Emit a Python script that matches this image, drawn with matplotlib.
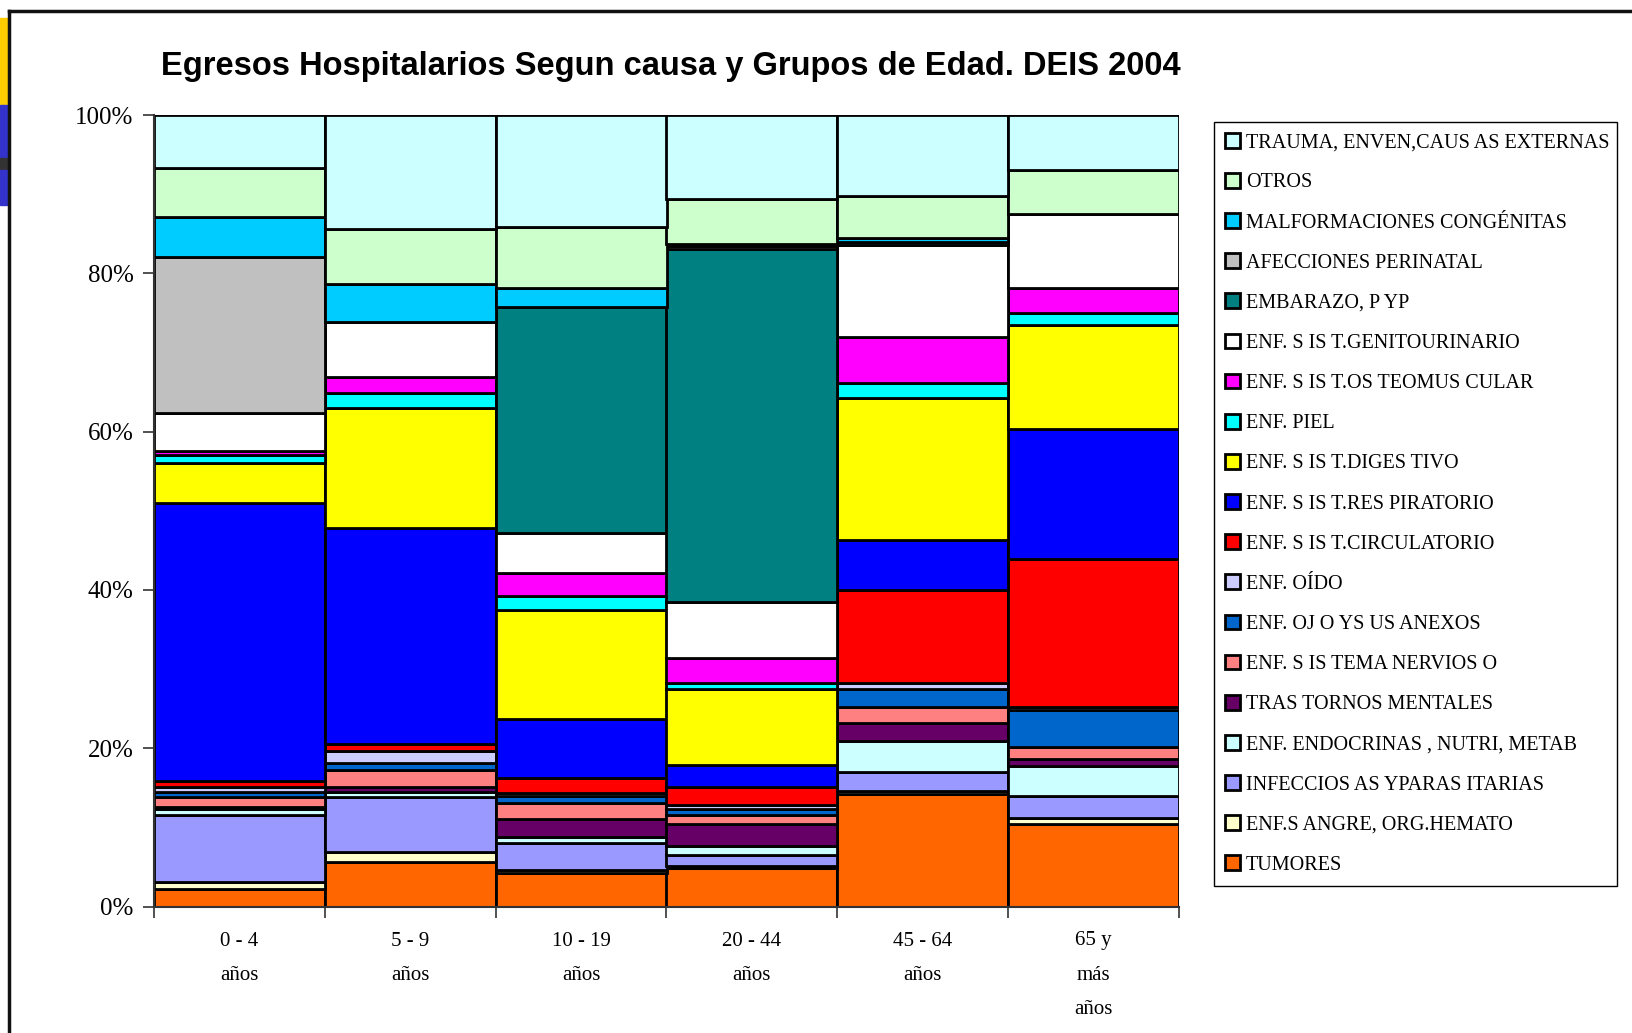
import matplotlib
matplotlib.use("Agg")
import matplotlib.pyplot as plt
import numpy as np
from matplotlib.patches import Rectangle
from matplotlib.lines import Line2D

# ---------------- data ----------------
groups = ["0 - 4\naños", "5 - 9\naños", "10 - 19\naños", "20 - 44\naños",
          "45 - 64\naños", "65 y\nmás\naños"]
yticklabels = ["0%", "20%", "40%", "60%", "80%", "100%"]

tumores       = [2.2, 5.6, 4.2, 4.9, 14.2, 10.4]
sangre        = [0.9, 1.3, 0.4, 0.2, 0.4, 0.8]
infecciosas   = [8.5, 6.9, 3.4, 1.4, 2.4, 2.7]
endocrinas    = [0.7, 0.7, 0.8, 1.2, 3.9, 3.9]
mentales      = [0.3, 0.6, 2.3, 2.7, 2.3, 0.8]
nervioso      = [1.2, 2.2, 2.0, 1.2, 2.0, 1.5]
ojo           = [0.7, 0.8, 0.8, 0.7, 2.3, 4.7]
oido          = [0.6, 1.6, 0.5, 0.5, 0.8, 0.4]
circulatorio  = [0.7, 0.8, 1.8, 2.3, 11.7, 18.7]
respiratorio  = [35.2, 27.3, 7.5, 2.8, 6.3, 16.4]
digestivo     = [5.0, 15.2, 13.7, 9.6, 17.9, 13.2]
piel          = [1.0, 1.9, 1.8, 0.8, 1.9, 1.5]
osteomuscular = [0.6, 2.0, 2.9, 3.1, 5.9, 3.2]
genitourinario= [4.7, 7.0, 5.1, 7.1, 11.6, 9.3]
embarazo      = [0.0, 0.0, 28.6, 44.6, 0.4, 0.0]
perinatal     = [19.8, 0.0, 0.0, 0.3, 0.0, 0.0]
malformaciones= [5.0, 4.7, 2.4, 0.3, 0.4, 0.0]
otros         = [6.2, 7.0, 7.7, 5.7, 5.4, 5.5]
trauma        = [6.7, 14.4, 14.1, 10.6, 10.2, 7.0]

# bottom -> top
series = [
    ("TUMORES", tumores, "#FF6600"),
    ("ENF.S ANGRE, ORG.HEMATO", sangre, "#FFFFCC"),
    ("INFECCIOS AS YPARAS ITARIAS", infecciosas, "#9999FF"),
    ("ENF. ENDOCRINAS , NUTRI, METAB", endocrinas, "#CCFFFF"),
    ("TRAS TORNOS MENTALES", mentales, "#660066"),
    ("ENF. S IS TEMA NERVIOS O", nervioso, "#FF8080"),
    ("ENF. OJ O YS US ANEXOS", ojo, "#0066CC"),
    ("ENF. OÍDO", oido, "#CCCCFF"),
    ("ENF. S IS T.CIRCULATORIO", circulatorio, "#FF0000"),
    ("ENF. S IS T.RES PIRATORIO", respiratorio, "#0000FF"),
    ("ENF. S IS T.DIGES TIVO", digestivo, "#FFFF00"),
    ("ENF. PIEL", piel, "#00FFFF"),
    ("ENF. S IS T.OS TEOMUS CULAR", osteomuscular, "#FF00FF"),
    ("ENF. S IS T.GENITOURINARIO", genitourinario, "#FFFFFF"),
    ("EMBARAZO, P YP", embarazo, "#008080"),
    ("AFECCIONES PERINATAL", perinatal, "#C0C0C0"),
    ("MALFORMACIONES CONGÉNITAS", malformaciones, "#00CCFF"),
    ("OTROS", otros, "#CCFFCC"),
    ("TRAUMA, ENVEN,CAUS AS EXTERNAS", trauma, "#CCFFFF"),
]

title = "Egresos Hospitalarios Segun causa y Grupos de Edad. DEIS 2004"

# ---------------- figure ----------------
W, H = 1632, 1033
fig = plt.figure(figsize=(W / 100, H / 100), dpi=100)
fig.patch.set_facecolor("white")

serif = ["Liberation Serif", "DejaVu Serif"]
sans = ["Liberation Sans", "DejaVu Sans"]

ax = fig.add_axes([154 / W, 1 - 906.5 / H, (1179 - 154) / W, (906.5 - 115) / H])

totals = np.sum([np.array(v, dtype=float) for _, v, _ in series], axis=0)
x = np.arange(len(groups))
bottom = np.zeros(len(groups))
containers = []
for name, vals, col in series:
    pct = np.array(vals, dtype=float) / totals * 100
    c = ax.bar(x, pct, width=1.0, bottom=bottom, color=col, edgecolor="black",
               linewidth=2.0, label=name, zorder=2)
    containers.append(c)
    bottom += pct

ax.set_xlim(-0.5, len(groups) - 0.5)
ax.set_ylim(0, 100)

# x axis: tick marks at bar boundaries, labels centred
ax.set_xticks(np.arange(-0.5, len(groups), 1.0))
ax.tick_params(axis="x", which="major", length=8, width=1.2, direction="out",
               labelbottom=False, color="#333333")
ax.set_xticks(x, minor=True)
ax.set_xticklabels(groups, minor=True, fontsize=15, family=serif,
                   linespacing=2.1, va="top")
ax.tick_params(axis="x", which="minor", length=0, pad=18)

ax.set_yticks([0, 20, 40, 60, 80, 100])
ax.set_yticklabels(yticklabels, fontsize=18, family=serif)
ax.tick_params(axis="y", length=8, width=1.2, direction="out", pad=6.8,
               color="#333333")

for s in ["top", "right"]:
    ax.spines[s].set_visible(False)
for s in ["left", "bottom"]:
    ax.spines[s].set_linewidth(1.5)
    ax.spines[s].set_color("#333333")

# title
fig.text(671 / W, 1 - 66 / H, title, ha="center", va="center", fontsize=23.5,
         fontweight="bold", family=sans)

# legend (top entry = top of stack)
leg = fig.legend(handles=containers[::-1], labels=[s[0] for s in series][::-1],
                 loc="upper left",
                 bbox_to_anchor=(1213.6 / W, 1 - 885.7 / H, (1617.4 - 1213.6) / W, (885.7 - 121.8) / H),
                 mode="expand", borderaxespad=0,
                 prop={"family": serif, "size": 14.5},
                 handlelength=0.75, handleheight=0.75, handletextpad=0.3,
                 labelspacing=1.03, borderpad=0.55, fancybox=False,
                 frameon=True, edgecolor="black", framealpha=1)
leg.get_frame().set_linewidth(1.0)

# chart-area frame and slide remnants at the left
fig.add_artist(Line2D([9 / W, 9 / W], [0, 1 - 11 / H], color="#111111", lw=2.5,
                      transform=fig.transFigure))
fig.add_artist(Line2D([9 / W, 1], [1 - 11 / H, 1 - 11 / H], color="#111111", lw=2.5,
                      transform=fig.transFigure))
fig.add_artist(Rectangle((0, 1 - 105 / H), 7 / W, 87 / H, color="#FFCC00",
                         transform=fig.transFigure))
fig.add_artist(Rectangle((0, 1 - 158 / H), 7 / W, 53 / H, color="#3333CC",
                         transform=fig.transFigure))
fig.add_artist(Rectangle((0, 1 - 170 / H), 7 / W, 12 / H, color="#333333",
                         transform=fig.transFigure))
fig.add_artist(Rectangle((0, 1 - 205 / H), 7 / W, 35 / H, color="#3333CC",
                         transform=fig.transFigure))

fig.savefig("out.png", dpi=100, facecolor="white")
